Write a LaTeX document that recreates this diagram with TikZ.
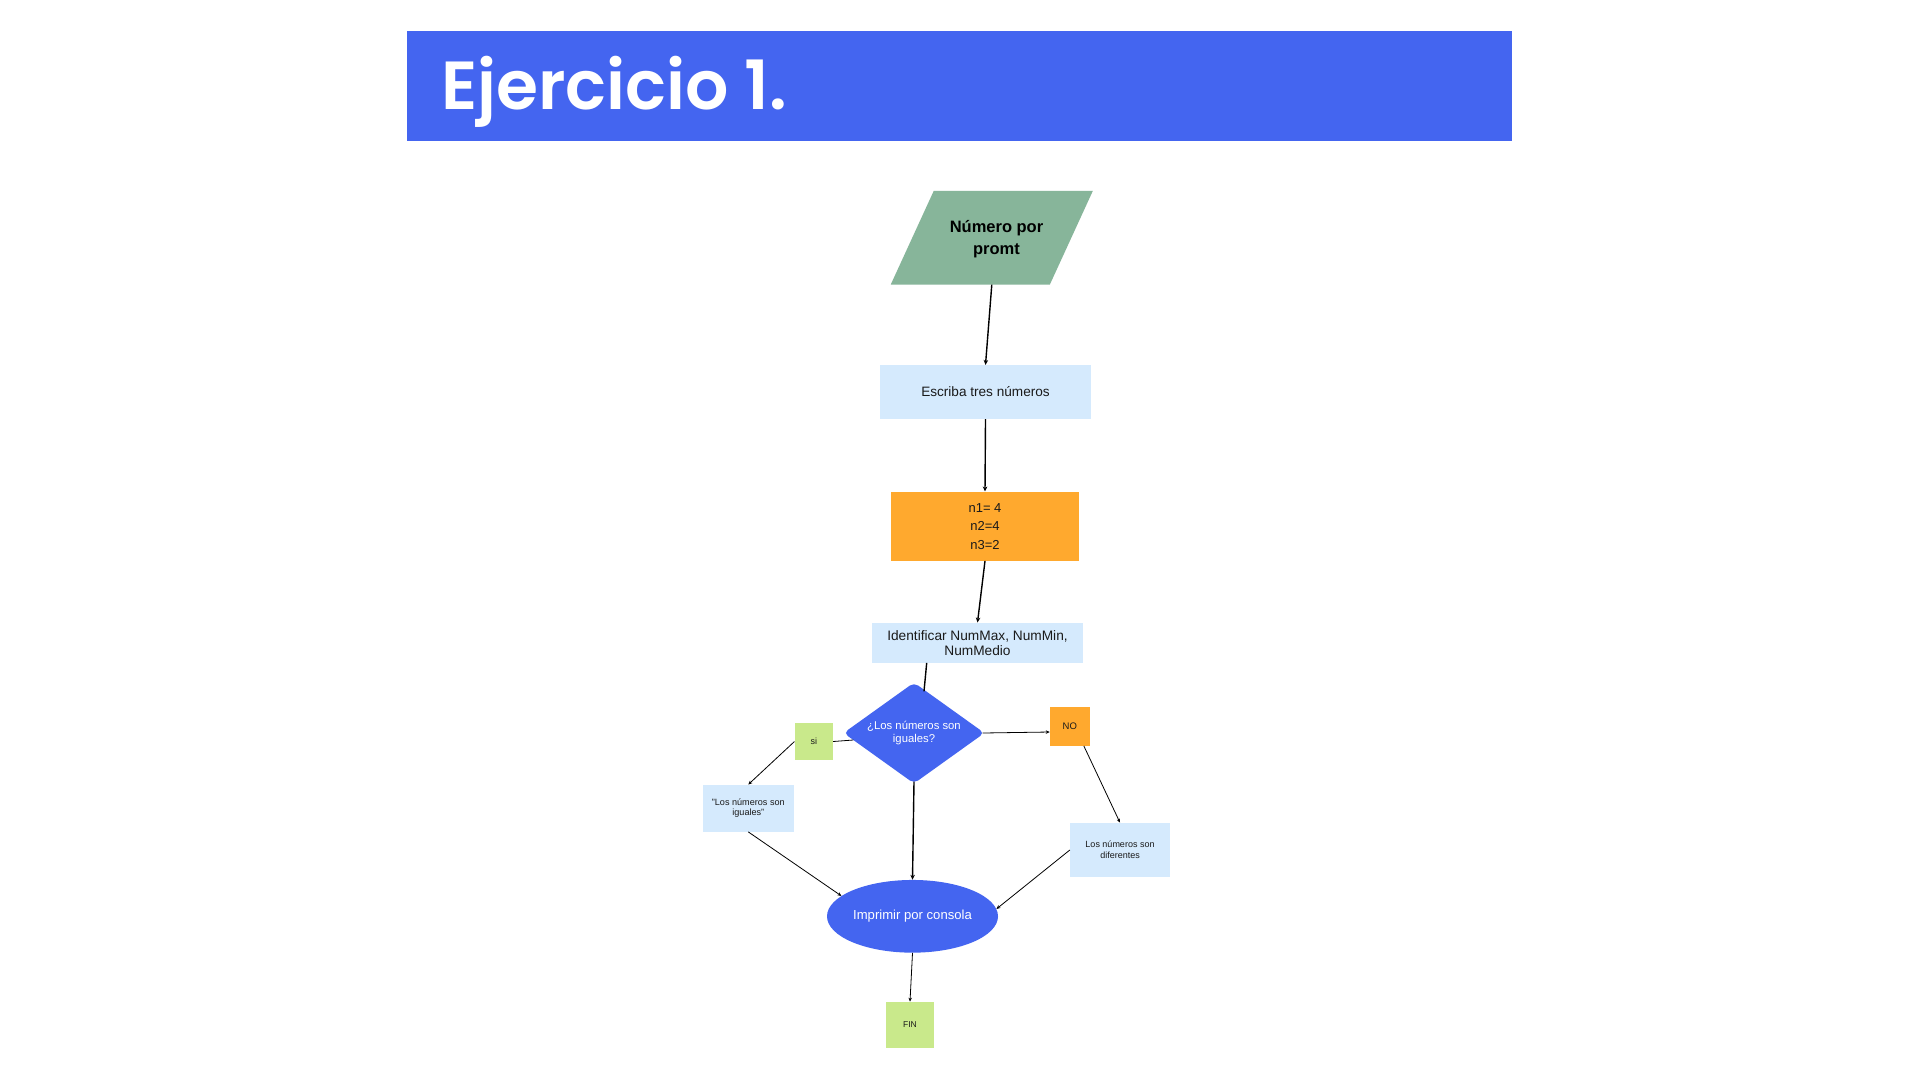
\documentclass[tikz,border=0pt]{standalone}
\usepackage{fontspec}
\setmainfont{Liberation Sans}
\newfontfamily\titlefont{Poppins SemiBold}
\usetikzlibrary{shapes.geometric,arrows.meta}
\definecolor{tblue}{HTML}{4465F0}
\definecolor{pgreen}{HTML}{87B59A}
\definecolor{lblue}{HTML}{D5EAFD}
\definecolor{orng}{HTML}{FFA92E}
\definecolor{lgreen}{HTML}{C9E98B}
\definecolor{ink}{HTML}{1A1A1A}
\tikzset{
  box/.style={rectangle, inner sep=0pt, align=center, text=ink},
  lbox/.style={box, fill=lblue},
  obox/.style={box, fill=orng},
  gbox/.style={box, fill=lgreen},
  fs/.style n args={2}{font=\fontsize{#1}{#2}\selectfont},
  arr/.style={draw=black, line width=1.4pt, -{Stealth[length=5pt,width=4.5pt]}},
  tarr/.style={draw=black, line width=0.8pt, -{Stealth[length=4pt,width=3.5pt]}},
  tline/.style={draw=black, line width=0.8pt},
}
\begin{document}
\begin{tikzpicture}[x=1pt,y=-1pt]
\useasboundingbox (0,0) rectangle (1920,1080);
\fill[white] (0,0) rectangle (1920,1080);
% title
\node[rectangle, fill=tblue, minimum width=1105pt, minimum height=110pt, inner sep=0pt] (bar) at (959.7,86) {};
\node[anchor=base west, inner sep=0pt, text=white, font=\titlefont\fontsize{68}{68}\selectfont] (title) at (441,109.3) {Ejercicio 1.};
% parallelogram
\node[rectangle, minimum width=201.7pt, minimum height=93.3pt, inner sep=0pt] (para) at (991.8,237.7) {};
\fill[pgreen] ([xshift=43pt]para.north west) -- (para.north east) -- ([xshift=-43pt]para.south east) -- (para.south west) -- cycle;
\node[box, font=\bfseries\fontsize{16.5}{22}\selectfont, text=black] (paratxt) at (996.5,239) {Número por\\promt};
% boxes
\node[lbox, minimum width=211pt, minimum height=53.7pt, fs={13.6}{16}] (esc) at (985.5,392) {Escriba tres números};
\node[obox, minimum width=188.3pt, minimum height=69pt, fs={13}{18.5}] (nums) at (985,526.2) {n1= 4\\n2=4\\n3=2};
\node[lbox, minimum width=211pt, minimum height=40pt, fs={13.7}{15}] (idf) at (977.5,642.7) {Identificar NumMax, NumMin,\\NumMedio};
\node[diamond, aspect=1.4, fill=tblue, rounded corners=5pt, minimum width=141pt, minimum height=101pt, inner sep=0pt, align=center, text=white, fs={11.3}{12.5}] (dia) at (914,733) {¿Los números son\\iguales?};
\node[gbox, minimum width=38.3pt, minimum height=37pt, fs={9}{10}] (si) at (813.8,741.5) {si};
\node[obox, minimum width=39.7pt, minimum height=38.7pt, fs={9.5}{10}] (no) at (1069.8,726.3) {NO};
\node[lbox, minimum width=91.3pt, minimum height=47pt, fs={9.1}{10}] (igu) at (748.3,808.2) {"Los números son\\iguales"};
\node[lbox, minimum width=100pt, minimum height=54.3pt, fs={9}{11}] (dif) at (1120,850) {Los números son\\diferentes};
\node[ellipse, fill=tblue, minimum width=171pt, minimum height=72.7pt, inner sep=0pt, text=white, fs={13.1}{15}] (ell) at (912.5,916.3) {Imprimir por consola};
\node[gbox, minimum width=48.3pt, minimum height=46.3pt, fs={8.5}{10}] (fin) at (910,1025) {FIN};
% connectors
\draw[arr] (para.south) -- (esc.north);
\draw[arr] (esc.south) -- (nums.north);
\draw[arr] (nums.south) -- (idf.north);
\draw[line width=1.4pt] ([xshift=-50.8pt]idf.south) -- ([xshift=10pt,yshift=-9pt]dia.north);
\draw[tline] ([xshift=10pt,yshift=-7pt]dia.west) -- (si.east);
\draw[tarr] (si.west) -- (igu.north);
\draw[tarr] ([xshift=-2pt]dia.east) -- ([yshift=-5.7pt]no.west);
\draw[tarr] ([xshift=14pt]no.south) -- (dif.north);
\draw[arr] ([yshift=2pt]dia.south) -- (ell.north);
\draw[tarr] (igu.south) -- (ell.164);
\draw[tarr] (dif.west) -- (ell.5);
\draw[tarr] (ell.south) -- (fin.north);
\end{tikzpicture}
\end{document}
